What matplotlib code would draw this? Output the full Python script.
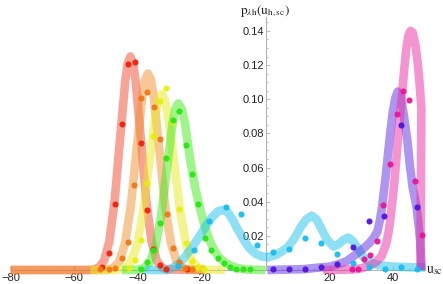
import matplotlib
matplotlib.use("Agg")
import matplotlib.pyplot as plt
from matplotlib.ticker import MultipleLocator, FixedLocator

plt.rcParams['font.family'] = ['Liberation Sans', 'DejaVu Sans']
plt.rcParams['mathtext.fontset'] = 'stix'

# ---- curve data ----
red_u = [-80, -55.5, -53.95, -52.3, -50.65, -49.0, -47.35, -45.7, -44.05, -43.22, -42.4,
         -41.58, -40.75, -39.1, -37.45, -35.8, -34.15, -32.5, -30.85, -19]
red_p = [0, 0, 0.0003, 0.0014, 0.0055, 0.0169, 0.0406, 0.0758, 0.1103, 0.1212, 0.125,
         0.1212, 0.1103, 0.0758, 0.0406, 0.0169, 0.0055, 0.0014, 0.0003, 0]

orange_u = [-80, -51.5, -49.5, -47.7, -45.9, -44.1, -42.3, -40.5, -38.7, -37.8, -36.9,
            -36.0, -35.1, -33.3, -31.5, -29.7, -27.9, -26.1, -24.3, -19]
orange_p = [0, 0, 0.00025, 0.0013, 0.0050, 0.0156, 0.0373, 0.0697, 0.1015, 0.1115, 0.115,
            0.1115, 0.1015, 0.0697, 0.0373, 0.0156, 0.0050, 0.0013, 0.00025, 0]

yellow_u = [-55, -48, -46.25, -44.3, -42.35, -40.4, -38.45, -36.5, -34.55, -33.58, -32.6,
            -31.62, -30.65, -28.7, -26.75, -24.8, -22.85, -20.9, -18.95, -12.7]
yellow_p = [0, 0, 0.0002, 0.0011, 0.0045, 0.0139, 0.0334, 0.0625, 0.0909, 0.0998, 0.103,
            0.0998, 0.0909, 0.0625, 0.0334, 0.0139, 0.0045, 0.0011, 0.0002, 0]

green_u = [-45, -42, -40.0, -38.2, -36.4, -34.6, -32.8, -31.0, -29.2, -28.3, -27.4,
           -26.35, -25.3, -23.8, -22.2, -20.6, -19.0, -17.4, -15.8, -14.2, -12.6, -11.0,
           -9.0, -6.0, 0]
green_p = [0, 0, 0.0002, 0.0011, 0.0043, 0.0132, 0.0317, 0.0591, 0.0860, 0.0945, 0.0975,
           0.0945, 0.086, 0.066, 0.049, 0.036, 0.025, 0.0165, 0.0105, 0.0066, 0.0042, 0.0025,
           0.0012, 0.0003, 0]

cyan_u = [-38, -31, -29, -27, -25, -23, -21, -19, -17, -15, -13.5, -12, -10.5, -9, -7, -5,
          -3, -1, 1, 3, 5, 7, 9, 11, 12.8, 14.4, 16, 17.5, 19, 20.2, 21.3, 22.6, 24.5,
          25.9, 27.3, 29, 30.5, 32, 34, 36, 40, 44, 48, 50]
cyan_p = [0, 0, 0.0015, 0.004, 0.0085, 0.0135, 0.019, 0.025, 0.0305, 0.0343, 0.0352,
          0.034, 0.030, 0.0245, 0.018, 0.0125, 0.0093, 0.0078, 0.0076, 0.0086, 0.0108,
          0.0135, 0.0185, 0.0252, 0.0298, 0.0318, 0.0295, 0.024, 0.0185, 0.0158, 0.0138,
          0.0148, 0.0178, 0.019, 0.017, 0.0125, 0.0078, 0.0052, 0.0035, 0.0027, 0.002,
          0.0017, 0.0015, 0.0015]

purple_u = [0.5, 12, 17, 20.2, 23, 25.4, 28, 30.6, 32.5, 33.7, 35, 35.8, 36.4, 37.0, 37.7,
            38.4, 39.1, 39.8, 40.6, 41.4, 42.2, 43.2, 44.4, 45.2, 46.1, 47.3, 48.0, 48.4,
            48.9]
purple_p = [0, 0.0005, 0.0015, 0.002, 0.0035, 0.0052, 0.0088, 0.0125, 0.0158, 0.0185,
            0.0225, 0.029, 0.036, 0.045, 0.056, 0.069, 0.081, 0.092, 0.1005, 0.1045, 0.102,
            0.092, 0.076, 0.061, 0.048, 0.037, 0.025, 0.0176, 0.0]

pink_u = [18, 27, 30, 32.5, 34.5, 36.3, 37.8, 38.7, 39.4, 40.0, 40.5, 41.0, 41.4, 42.0,
          42.7, 43.4, 44.1, 44.8, 45.4, 46.1, 46.9, 47.6, 48.2, 48.6, 48.8, 48.5]
pink_p = [0, 0.0003, 0.001, 0.0025, 0.0045, 0.008, 0.0155, 0.024, 0.035, 0.045, 0.055,
          0.066, 0.076, 0.088, 0.102, 0.117, 0.130, 0.1375, 0.140, 0.139, 0.132, 0.122,
          0.110, 0.100, 0.095, 0.0]

# ---- dot data ----
red_du = [-51.2, -49.2, -47.1, -45.1, -43.1, -41.1, -39.1, -37.2, -35.2, -33.1, -31.1, -24.8]
red_dp = [0.002, 0.0098, 0.0386, 0.0853, 0.1206, 0.1218, 0.0745, 0.0351, 0.0121, 0.003, 0.0008, 0.0003]

orange_du = [-51.9, -49.2, -47.2, -45.1, -43.1, -41.2, -39.1, -37.1, -35.1, -33.0, -31.0, -29.2, -27.3, -25.3, -23.2]
orange_dp = [0.0005, 0.0008, 0.0013, 0.0068, 0.0162, 0.050, 0.1005, 0.104, 0.0956, 0.0765, 0.0328, 0.0127, 0.0045, 0.001, 0.0005]

yellow_du = [-43.0, -41.0, -39.1, -37.1, -35.2, -33.0, -31.2, -29.2, -27.2, -25.1, -23.2, -21.2, -19.2]
yellow_dp = [0.001, 0.0059, 0.0178, 0.0507, 0.0785, 0.0989, 0.1066, 0.0868, 0.036, 0.016, 0.005, 0.0015, 0.0005]

green_du = [-39.2, -37.1, -35.2, -33.1, -31.2, -29.2, -27.1, -25.0, -23.2, -21.1, -19.1,
            -17.2, -15.0, -13.0, -11.2, -9.2, -7.0, -5.0]
green_dp = [0.0005, 0.0049, 0.012, 0.0277, 0.0656, 0.0878, 0.0933, 0.073, 0.0562, 0.0386, 0.019,
            0.0117, 0.0068, 0.0043, 0.002, 0.0005, 0.0004, 0.0003]

cyan_du = [-27.4, -22.4, -17.7, -12.6, -7.6, -2.6, 2.4, 7.4, 12.3, 17.3, 22.4, 27.5, 32.5, 37.4, 42.4, 47.3]
cyan_dp = [0.0025, 0.0117, 0.0287, 0.037, 0.033, 0.0146, 0.0107, 0.0123, 0.0185, 0.016, 0.0094,
           0.0039, 0.0016, 0.0005, 0.0016, 0.0006]

purple_du = [2.4, 7.4, 12.3, 17.3, 22.5, 27.5, 32.5, 37.2, 42.4, 47.4]
purple_dp = [0.0003, 0.0003, 0.0005, 0.0015, 0.0037, 0.0133, 0.0285, 0.0317, 0.0849, 0.0368]

pink_du = [26.9, 28.8, 30.9, 32.8, 34.9, 36.9, 39.0, 41.1, 42.9, 44.9, 46.9, 48.9]
pink_dp = [0.0004, 0.0004, 0.0064, 0.0086, 0.017, 0.038, 0.062, 0.0912, 0.105, 0.0995, 0.0523, 0.0205]

line_colors = ['#f04a30', '#f0912d', '#ebeb1e', '#41eb19', '#1ec3eb', '#5f2de1', '#eb2da5']
dot_colors = ['#f0200f', '#f07814', '#e6f00a', '#28e614', '#14bef0', '#5014dc', '#eb1496']

curves = [(red_u, red_p), (orange_u, orange_p), (yellow_u, yellow_p), (green_u, green_p),
          (cyan_u, cyan_p), (purple_u, purple_p), (pink_u, pink_p)]
dots = [(red_du, red_dp), (orange_du, orange_dp), (yellow_du, yellow_dp), (green_du, green_dp),
        (cyan_du, cyan_dp), (purple_du, purple_dp), (pink_du, pink_dp)]

fig = plt.figure(figsize=(4.43, 2.84), dpi=100)
x0, x1 = -81, 51
y0, y1 = -0.005, 0.148
px_per_u = 3.19
px_per_p = 1708.0
left_px = 265.7 + px_per_u * x0
right_px = 265.7 + px_per_u * x1
top_px = 270 - px_per_p * y1
bot_px = 270 - px_per_p * y0
ax = fig.add_axes([left_px / 443, 1 - bot_px / 284, (right_px - left_px) / 443, (bot_px - top_px) / 284])
ax.set_xlim(x0, x1)
ax.set_ylim(y0, y1)

for (u, p), c in zip(curves, line_colors):
    ax.plot(u, p, color=c, alpha=0.5, lw=6.2, solid_joinstyle='round', solid_capstyle='butt',
            clip_on=False, zorder=2)
for (u, p), c in zip(dots, dot_colors):
    ax.plot(u, p, 'o', color=c, ms=4.4, mew=0, alpha=0.95, clip_on=False, zorder=3)

for s in ['top', 'right']:
    ax.spines[s].set_visible(False)
ax.spines['left'].set_position(('data', 0))
ax.spines['bottom'].set_position(('data', 0))
ax.spines['left'].set_bounds(0, y1)
ax.spines['bottom'].set_bounds(-80, 50)
for s in ['left', 'bottom']:
    ax.spines[s].set_color('#b4b4b4')
    ax.spines[s].set_linewidth(0.8)
    ax.spines[s].set_zorder(1)

xt = [-80, -60, -40, -20, 20, 40]
yt = [0.02, 0.04, 0.06, 0.08, 0.10, 0.12, 0.14]
ax.xaxis.set_major_locator(FixedLocator(xt))
ax.yaxis.set_major_locator(FixedLocator(yt))
ax.xaxis.set_minor_locator(FixedLocator([v for v in range(-75, 50, 5) if v % 20 != 0]))
ax.yaxis.set_minor_locator(FixedLocator([i * 0.005 for i in range(1, 30) if i % 4 != 0]))
ax.set_xticklabels([f"\u2212{-v}" if v < 0 else str(v) for v in xt])
ax.set_yticklabels([f"{v:.2f}" for v in yt])
ax.tick_params(which='both', direction='in', color='#b4b4b4', width=0.6, labelsize=8,
               labelcolor='#222222')
ax.tick_params(which='major', length=3)
ax.tick_params(which='minor', length=1.5)
ax.tick_params(axis='y', pad=1.2)
ax.tick_params(axis='x', pad=2)

ax.text(50.3, 0, r'$\mathrm{u}_{\mathrm{sc}}$', fontsize=10, ha='left', va='center',
        clip_on=False, color='#222222')
fig.text(265.5 / 443, 1 - 11 / 284, r'$\mathrm{p}_{\lambda\mathrm{h}}(\mathrm{u}_{\mathrm{h,sc}})$',
         fontsize=9.5, ha='center', va='center', color='#222222')

fig.savefig('out.png', dpi=100)
